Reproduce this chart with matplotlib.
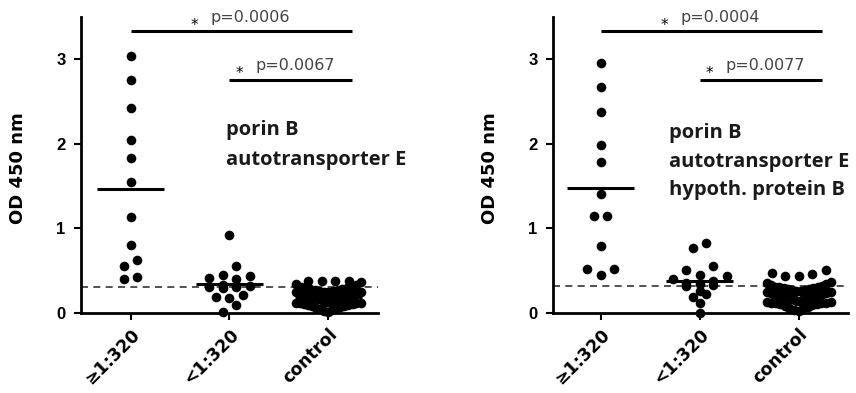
import matplotlib
matplotlib.use('Agg')
import matplotlib.pyplot as plt
import numpy as np

# ---------------- data ----------------
categories = ['≥1:320', '<1:320', 'control']

left_high = [3.04, 2.75, 2.42, 2.04, 1.83, 1.55, 1.13, 0.80, 0.62, 0.55, 0.42, 0.40]
left_low = [0.92, 0.55, 0.45, 0.43, 0.41, 0.40, 0.33, 0.32, 0.31, 0.30, 0.29,
            0.21, 0.19, 0.17, 0.09, 0.01]
left_control = [0.01, 0.02, 0.03, 0.04, 0.05, 0.06, 0.07, 0.08, 0.08, 0.09, 0.09,
                0.10, 0.10, 0.11, 0.11, 0.12, 0.12,
                0.13, 0.13, 0.14, 0.14, 0.15, 0.15, 0.15, 0.16, 0.16, 0.16, 0.17,
                0.17, 0.17, 0.18, 0.18, 0.18, 0.19, 0.19, 0.19, 0.20, 0.20, 0.20,
                0.21, 0.21, 0.22, 0.22, 0.22, 0.23, 0.23, 0.24, 0.24,
                0.25, 0.25, 0.26, 0.26, 0.27, 0.27, 0.28, 0.28, 0.29, 0.30, 0.30,
                0.31, 0.33, 0.34, 0.36,
                0.37, 0.37, 0.38, 0.38]

right_high = [2.96, 2.67, 2.37, 1.98, 1.78, 1.41, 1.14, 1.14, 0.79, 0.52, 0.52, 0.45]
right_low = [0.82, 0.76, 0.55, 0.51, 0.45, 0.44, 0.40, 0.38, 0.35, 0.34, 0.33,
             0.32, 0.26, 0.22, 0.19, 0.11, 0.00]
right_control = [0.02, 0.03, 0.05, 0.06, 0.07, 0.08, 0.09, 0.10, 0.10, 0.11, 0.11,
                 0.12, 0.12, 0.13, 0.13,
                 0.14, 0.14, 0.15, 0.15, 0.16, 0.16, 0.16, 0.17, 0.17, 0.17, 0.18,
                 0.18, 0.18, 0.19, 0.19, 0.19, 0.20, 0.20, 0.20, 0.21, 0.21, 0.21,
                 0.22, 0.22, 0.22, 0.23, 0.23, 0.23, 0.24, 0.24, 0.25, 0.25,
                 0.26, 0.26, 0.27, 0.27, 0.28, 0.28, 0.29, 0.29, 0.30, 0.30, 0.31,
                 0.32, 0.33, 0.34, 0.35, 0.36,
                 0.43, 0.44, 0.46, 0.47, 0.50]

cutoff_left = 0.30
cutoff_right = 0.32

pvals_left = ['p=0.0006', 'p=0.0067']
pvals_right = ['p=0.0004', 'p=0.0077']
antigens_left = ['porin B', 'autotransporter E']
antigens_right = ['porin B', 'autotransporter E', 'hypoth. protein B']
yticks = [0, 1, 2, 3]


# ---------------- scatter layout (Prism-like rows) ----------------
def row_layout(ax, xc, values, h=0.11, ascending=False, spacing_px=13.5, maxw_px=64.0):
    ppu = ax.transData.transform((1, 0))[0] - ax.transData.transform((0, 0))[0]
    vals = np.asarray(values, dtype=float)
    order = np.argsort(vals if ascending else -vals, kind='stable')
    rows, cur, start = [], [], None
    for i in order:
        if start is None or abs(vals[i] - start) >= h - 1e-9:
            if cur:
                rows.append(cur)
            cur, start = [i], vals[i]
        else:
            cur.append(i)
    if cur:
        rows.append(cur)
    xs = np.zeros(len(vals))
    for r in rows:
        n = len(r)
        s = spacing_px if n < 2 else min(spacing_px, maxw_px / (n - 1))
        pos = (np.arange(n) - (n - 1) / 2.0) * s
        pos_order = sorted(pos, key=lambda p: (round(abs(p), 6), p))
        r_sorted = sorted(r, key=lambda i: vals[i])
        for i, p in zip(r_sorted, pos_order):
            xs[i] = xc + p / ppu
    return xs


def draw_panel(ax, groups, cutoff, pvals, antigens, ant_x, ant_y, xlim, ylabel_x):
    ax.set_xlim(*xlim)
    ax.set_ylim(0, 3.5)
    for s in ['top', 'right']:
        ax.spines[s].set_visible(False)
    for s in ['left', 'bottom']:
        ax.spines[s].set_linewidth(2.0)
    ax.set_yticks(yticks)
    ax.set_yticklabels([str(t) for t in yticks], fontfamily='Liberation Sans',
                       fontweight='bold', fontsize=12)
    ax.set_xticks(range(len(categories)))
    ax.set_xticklabels(categories, rotation=45, ha='right', va='top',
                       rotation_mode='anchor', fontfamily='DejaVu Sans',
                       fontweight='bold', fontsize=12.5)
    ax.tick_params(axis='y', length=5, width=1.5, pad=6)
    ax.tick_params(axis='x', length=5, width=1.5, pad=4)
    ax.set_ylabel('OD 450 nm', fontfamily='DejaVu Sans', fontweight='bold',
                  fontsize=13, va='center')
    ax.yaxis.set_label_coords(ylabel_x, 0.49)

    row_heights = [0.11, 0.11, 0.12]
    row_up = [False, False, True]
    for i, vals in enumerate(groups):
        xs = row_layout(ax, i, vals, h=row_heights[i], ascending=row_up[i])
        ax.scatter(xs, vals, s=48, c='black', linewidths=0, zorder=3, clip_on=False)
        m = np.mean(vals)
        ax.hlines(m, i - 0.335, i + 0.335, colors='black', lw=2.2, zorder=4)

    ax.axhline(cutoff, color='#333333', lw=1.2, dashes=(4.2, 3.2), zorder=2)

    # significance bars
    ax.hlines(3.33, 0, 2.24, colors='black', lw=2.2, clip_on=False)
    ax.hlines(2.76, 1, 2.24, colors='black', lw=2.2, clip_on=False)
    ax.text(0.65, 3.40, '*', ha='center', va='center', fontsize=11, color='black')
    ax.text(0.81, 3.50, pvals[0], ha='left', va='center', fontsize=11.5,
            color='#444444', fontfamily='DejaVu Sans')
    ax.text(1.10, 2.83, '*', ha='center', va='center', fontsize=11, color='black')
    ax.text(1.26, 2.93, pvals[1], ha='left', va='center', fontsize=11.5,
            color='#444444', fontfamily='DejaVu Sans')

    for txt, yy in zip(antigens, ant_y):
        ax.text(ant_x, yy, txt, ha='left', va='baseline', fontfamily='Open Sans',
                fontweight='bold', fontsize=14.5, color='#1a1a1a')


fig = plt.figure(figsize=(8.56, 3.93), dpi=100)
ax1 = fig.add_axes([81 / 856, 80.3 / 393, 297 / 856, 295.7 / 393])
ax2 = fig.add_axes([553 / 856, 80.3 / 393, 295 / 856, 295.7 / 393])

draw_panel(ax1, [left_high, left_low, left_control], cutoff_left, pvals_left,
           antigens_left, 0.96, [2.10, 1.75], (-0.5, 2.5), -0.212)
draw_panel(ax2, [right_high, right_low, right_control], cutoff_right, pvals_right,
           antigens_right, 0.69, [2.07, 1.73, 1.39], (-0.48, 2.5), -0.215)

fig.savefig('out.png', dpi=100)
